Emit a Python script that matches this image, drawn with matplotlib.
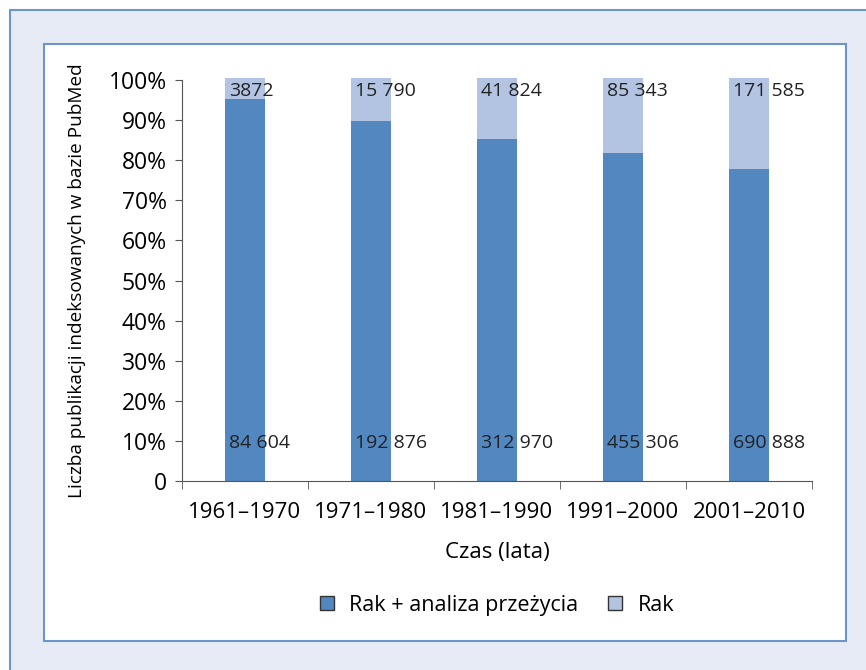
import matplotlib.pyplot as plt
from matplotlib.patches import Rectangle

plt.rcParams['font.family'] = ['Open Sans', 'DejaVu Sans']

okresy = ['1961–1970', '1971–1980', '1981–1990', '1991–2000', '2001–2010']
udzial_analiza = [0.953, 0.898, 0.853, 0.818, 0.779]
udzial_rak = [0.052, 0.107, 0.152, 0.187, 0.226]
etykiety_analiza = ['84 604', '192 876', '312 970', '455 306', '690 888']
etykiety_rak = ['3872', '15 790', '41 824', '85 343', '171 585']

ciemny = '#5287c0'
jasny = '#b2c4e2'
ramka = '#6b96cc'
tlo = '#e7ebf5'

fig = plt.figure(figsize=(8.66, 6.70), dpi=100)
fig.patch.set_facecolor('white')
W, H = 866, 670
# outer light panel with blue edge
fig.patches.append(Rectangle((10 / W, -0.1), 1.1, 1 - 10 / H + 0.1, transform=fig.transFigure,
                             facecolor=tlo, edgecolor=ramka, lw=1.5, zorder=-2))
# inner white panel
fig.patches.append(Rectangle((44 / W, 1 - 641 / H), (846 - 44) / W, (641 - 44) / H,
                             transform=fig.transFigure, facecolor='white', edgecolor=ramka,
                             lw=1.5, zorder=-1))

ax = fig.add_axes([182 / W, 1 - 481 / H, (812 - 182) / W, (481 - 80) / H])
ax.set_zorder(5)
ax.set_facecolor('none')
x = list(range(len(okresy)))
ax.bar(x, udzial_analiza, width=0.32, color=ciemny, label='Rak + analiza przeżycia', zorder=2)
ax.bar(x, udzial_rak, width=0.32, bottom=udzial_analiza, color=jasny, label='Rak',
       zorder=2, clip_on=False)

for i in x:
    ax.text(i - 0.125, 0.973, etykiety_rak[i], ha='left', va='center', fontsize=14,
            color='#222222', zorder=3)
    ax.text(i - 0.125, 0.095, etykiety_analiza[i], ha='left', va='center', fontsize=14,
            color='#222222', zorder=3)

ax.set_xlim(-0.5, len(okresy) - 0.5)
ax.set_ylim(0, 1.0)
ax.set_yticks([i / 10 for i in range(11)])
ax.set_yticklabels(['0'] + [f'{i * 10}%' for i in range(1, 11)], fontsize=16.5)
ax.set_xticks(x)
ax.set_xticklabels(okresy, fontsize=16)
ax.set_xticks([i - 0.5 for i in range(len(okresy) + 1)], minor=True)
ax.tick_params(axis='x', which='major', length=0, pad=15)
ax.tick_params(axis='x', which='minor', length=6, color='#555555', direction='out')
ax.tick_params(axis='y', length=5, color='#555555', pad=6)
for s in ['top', 'right']:
    ax.spines[s].set_visible(False)
for s in ['left', 'bottom']:
    ax.spines[s].set_color('#555555')
ax.set_xlabel('Czas (lata)', fontsize=16, labelpad=14)
ax.set_ylabel('Liczba publikacji indeksowanych w bazie PubMed', fontsize=13.7, labelpad=16)

ax.legend(loc='upper center', bbox_to_anchor=(0.5, -0.235), ncol=2, frameon=False,
          fontsize=15.5, handlelength=0.65, handleheight=0.65, columnspacing=1.4,
          handletextpad=0.7)
leg = ax.get_legend()
for h in leg.legend_handles:
    h.set_edgecolor('#333333')
    h.set_linewidth(1)

fig.savefig('out.png', dpi=100)
